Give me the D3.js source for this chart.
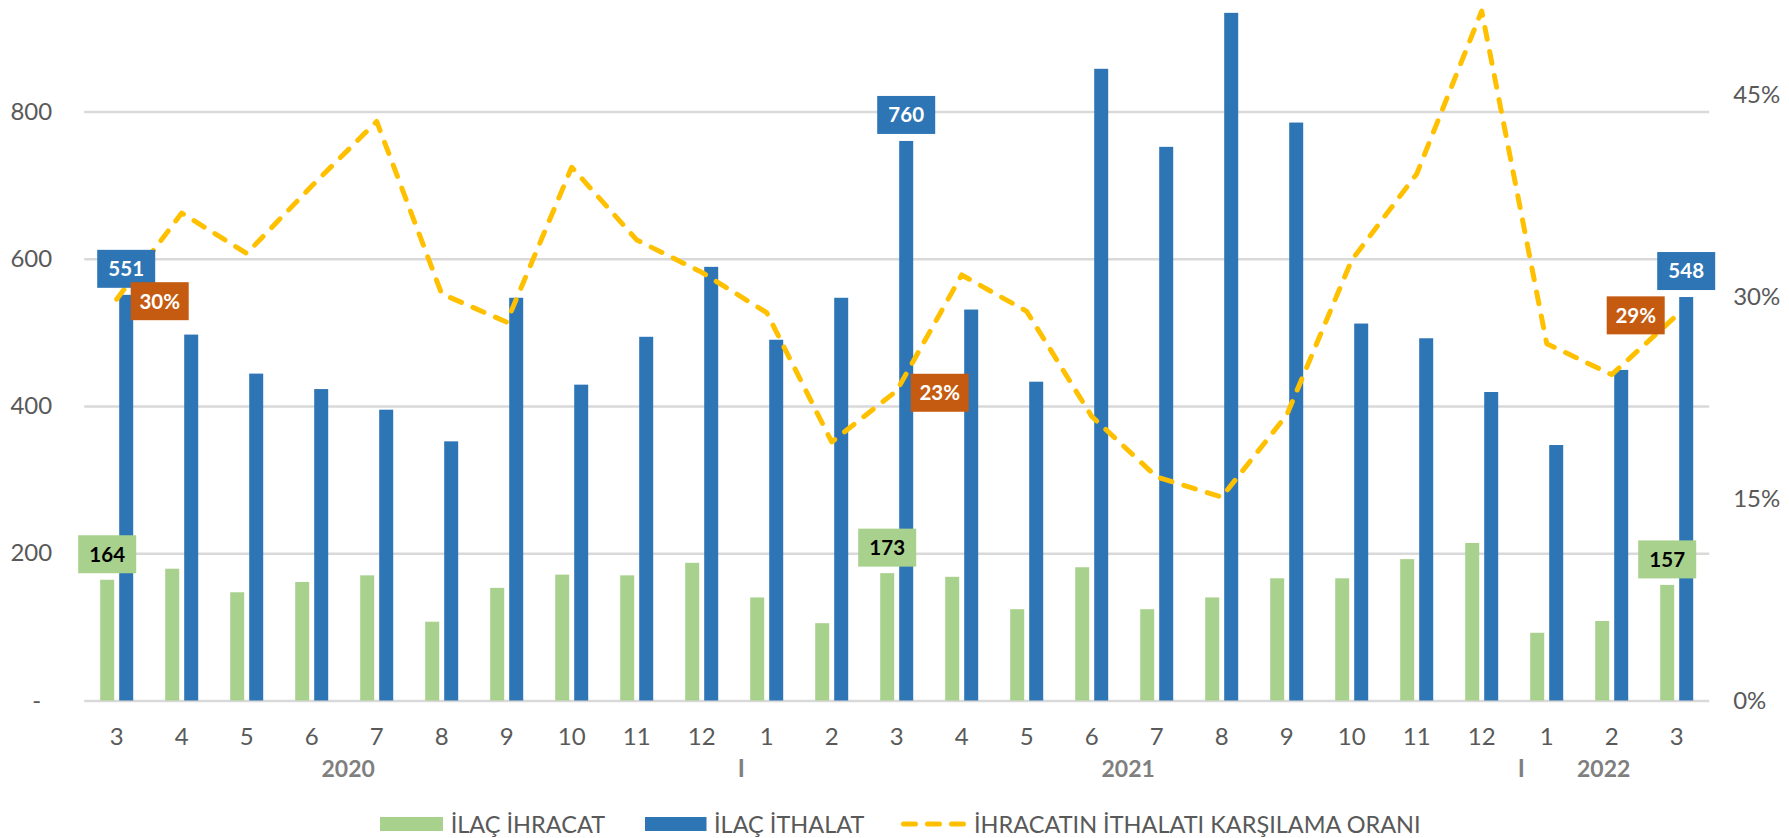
<!DOCTYPE html>
<html>
<head>
<meta charset="utf-8">
<script src="https://cdn.jsdelivr.net/npm/d3@7"></script>
<style>
  body { margin: 0; background: #fff; }
  text { font-family: Lato, "Open Sans", "DejaVu Sans", sans-serif; }
</style>
</head>
<body>
<svg id="chart" width="1789" height="838"></svg>
<script>
// ---------- DATA ----------
const months = ["3","4","5","6","7","8","9","10","11","12","1","2","3","4","5","6","7","8","9","10","11","12","1","2","3"];
const years  = ["2020","2020","2020","2020","2020","2020","2020","2020","2020","2020",
                "2021","2021","2021","2021","2021","2021","2021","2021","2021","2021","2021","2021",
                "2022","2022","2022"];
const exportValues = [164,179,147,161,170,107,153,171,170,187,140,105,173,168,124,181,124,140,166,166,192,214,92,108,157];
const importValues = [551,497,444,423,395,352,547,429,494,589,490,547,760,531,433,858,752,934,785,512,492,419,347,449,548];
const coverageRatio = [29.8,36.2,33.2,38.2,43.0,30.2,28.1,39.6,34.2,31.8,28.8,19.2,23.0,31.6,28.9,21.1,16.6,15.1,21.2,32.7,39.1,51.2,26.5,24.2,28.6];
const leftTicks = [0,200,400,600,800];
const rightTicks = [0,0.15,0.30,0.45];
const yearLabels = ["2020","2021","2022"];
const seriesNames = ["İLAÇ İHRACAT","İLAÇ İTHALAT","İHRACATIN İTHALATI KARŞILAMA ORANI"];
const labelledIndex = [0,12,24];

// ---------- LAYOUT ----------
const colors = { exp: "#a9d18e", imp: "#2e75b6", ratio: "#ffc000", ratioLabel: "#c55a11", text: "#595959", year: "#7f7f7f", grid: "#d9d9d9" };
const plot = { left: 84.2, right: 1709.2, bottom: 700.5 };
const keys = months.map((m, i) => years[i] + "-" + m);

const svg = d3.select("#chart");
const x = d3.scaleBand().domain(keys).range([plot.left, plot.right]).paddingInner(0).paddingOuter(0);
const xs = d3.scaleBand().domain(["exp","imp"]).range([-16.5, 16.5]).paddingInner(5/19);
const yL = d3.scaleLinear().domain([0, 800]).range([plot.bottom, 111.5]);
const yR = d3.scaleLinear().domain([0, 0.45]).range([plot.bottom, 94.5]);
const cx = k => x(k) + x.bandwidth() / 2;

// gridlines
const grid = svg.append("g").attr("transform", `translate(${plot.left},0)`)
  .call(d3.axisLeft(yL).tickValues(leftTicks).tickSize(-(plot.right - plot.left)).tickFormat(""));
grid.select(".domain").remove();
grid.selectAll("line").attr("stroke", colors.grid).attr("stroke-width", 2.5);

// left axis labels
const ax = svg.append("g").attr("transform", `translate(${plot.left},0)`)
  .call(d3.axisLeft(yL).tickValues(leftTicks).tickSize(0).tickPadding(32).tickFormat(d => d === 0 ? "-" : d));
ax.select(".domain").remove();
ax.selectAll("text").attr("fill", colors.text).attr("font-size", 24).attr("font-family", "Lato")
  .attr("dx", d => d === 0 ? -11 : 0);

// right axis labels
const ar = svg.append("g").attr("transform", `translate(${plot.right},0)`)
  .call(d3.axisRight(yR).tickValues(rightTicks).tickSize(0).tickPadding(24).tickFormat(d3.format(".0%")));
ar.select(".domain").remove();
ar.selectAll("text").attr("fill", colors.text).attr("font-size", 24).attr("font-family", "Lato");

// x axis
const axb = svg.append("g").attr("transform", `translate(0,${plot.bottom})`)
  .call(d3.axisBottom(x).tickSize(0).tickPadding(27.5).tickFormat((k, i) => months[i]));
axb.select(".domain").remove();
axb.selectAll("text").attr("fill", colors.text).attr("font-size", 24).attr("font-family", "Lato");

// year labels and separators
const yearAnchor = { "2020": ["2020-6","2020-7"], "2021": ["2021-6","2021-7"], "2022": ["2022-2","2022-2"] };
svg.append("g").selectAll("text").data(yearLabels).join("text")
  .attr("x", y => (cx(yearAnchor[y][0]) + cx(yearAnchor[y][1])) / 2 + 4 - (y === "2022" ? 12 : 0))
  .attr("y", 776.7).attr("text-anchor", "middle")
  .attr("font-size", 23).attr("font-weight", 700).attr("fill", colors.year).text(y => y);
const separators = yearLabels.slice(1).map(y => keys[years.indexOf(y)]);
svg.append("g").selectAll("text").data(separators).join("text")
  .attr("x", k => x(k) + 7).attr("y", 777).attr("text-anchor", "middle")
  .attr("font-size", 24).attr("font-weight", 700).attr("fill", colors.year).text("I");

// bars
svg.append("g").selectAll("rect").data(exportValues).join("rect")
  .attr("x", (d, i) => cx(keys[i]) + xs("exp")).attr("width", xs.bandwidth())
  .attr("y", d => yL(d)).attr("height", d => yL(0) - yL(d)).attr("fill", colors.exp);
svg.append("g").selectAll("rect").data(importValues).join("rect")
  .attr("x", (d, i) => cx(keys[i]) + xs("imp")).attr("width", xs.bandwidth())
  .attr("y", d => yL(d)).attr("height", d => yL(0) - yL(d)).attr("fill", colors.imp);

// line
const line = d3.line().x((d, i) => cx(keys[i])).y(d => yR(d / 100));
svg.append("path").datum(coverageRatio).attr("d", line)
  .attr("fill", "none").attr("stroke", colors.ratio).attr("stroke-width", 5)
  .attr("stroke-dasharray", "12 12.5").attr("stroke-linecap", "round").attr("stroke-linejoin", "round");

// data labels
const boxW = 58, boxH = 38;
function label(bx, by, txt, fill, tcol) {
  const g = svg.append("g");
  g.append("rect").attr("x", bx).attr("y", by).attr("width", boxW).attr("height", boxH).attr("fill", fill);
  g.append("text").attr("x", bx + boxW / 2).attr("y", by + boxH / 2 + 7.4).attr("text-anchor", "middle")
    .attr("font-size", 20.5).attr("font-weight", 700).attr("fill", tcol).text(txt);
}
labelledIndex.forEach(i => {
  const k = keys[i];
  label(cx(k) + xs("imp") + xs.bandwidth() / 2 - boxW / 2, yL(importValues[i]) - 7 - boxH, importValues[i], colors.imp, "#fff");
  label(cx(k) + xs("exp") + xs.bandwidth() / 2 - boxW / 2, yL(exportValues[i]) - 6.5 - boxH, exportValues[i], colors.exp, "#000");
  const py = yR(coverageRatio[i] / 100);
  const last = i === keys.length - 1;
  const bx = last ? cx(k) - 12 - boxW : cx(k) + 14;
  label(bx, py - boxH / 2 + (last ? 0 : 2), d3.format(".0%")(coverageRatio[i] / 100), colors.ratioLabel, "#fff");
});

// legend
const lg = svg.append("g");
lg.append("rect").attr("x", 380).attr("y", 817).attr("width", 63).attr("height", 14).attr("fill", colors.exp);
lg.append("text").attr("x", 450.7).attr("y", 833).text(seriesNames[0]);
lg.append("rect").attr("x", 645).attr("y", 817).attr("width", 61.5).attr("height", 14).attr("fill", colors.imp);
lg.append("text").attr("x", 714).attr("y", 833).text(seriesNames[1]);
lg.append("line").attr("x1", 903.5).attr("x2", 963.5).attr("y1", 824).attr("y2", 824)
  .attr("stroke", colors.ratio).attr("stroke-width", 5).attr("stroke-dasharray", "12 12").attr("stroke-linecap", "round");
lg.append("text").attr("x", 974).attr("y", 833).text(seriesNames[2]);
lg.selectAll("text").attr("font-size", 23.5).attr("fill", colors.text);
</script>
</body>
</html>
